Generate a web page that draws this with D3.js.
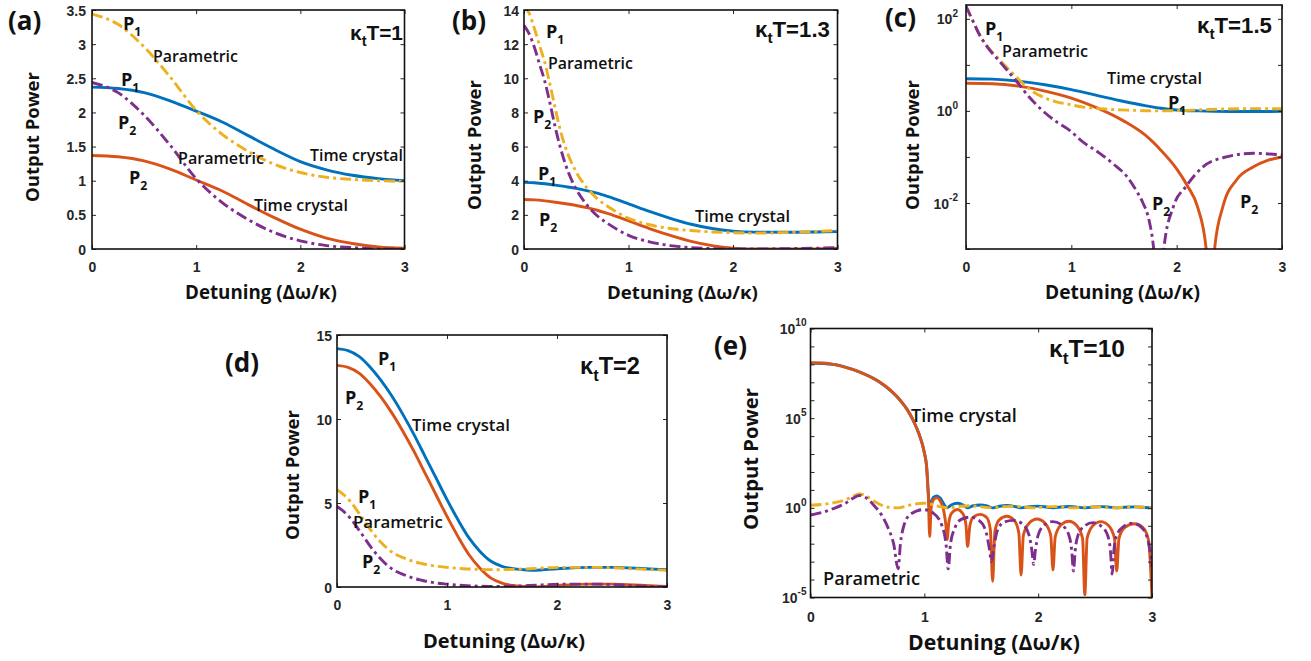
<!DOCTYPE html>
<html>
<head>
<meta charset="utf-8">
<script src="https://cdn.jsdelivr.net/npm/d3@7"></script>
<style>
  html, body { margin: 0; padding: 0; background: #fff; }
  svg { display: block; }
  .tick text { font-family: "Liberation Sans", Arial, sans-serif; font-weight: bold; fill: #262626; }
  .tick line { stroke: #262626; }
  .lbl { font-family: "Open Sans", "Noto Sans", sans-serif; font-weight: bold; fill: #111; }
  .kap { font-family: "Liberation Sans", Arial, sans-serif; font-weight: bold; fill: #111; }
</style>
</head>
<body>
<svg id="fig" width="1311" height="661"></svg>
<script>
// ---- data: [detuning, output power] ----
const xTicks = [0, 1, 2, 3];

// (a) kT = 1
const aYTicks = [0, 0.5, 1, 1.5, 2, 2.5, 3, 3.5];
const aBlue = [[0, 2.37], [0.25, 2.35], [0.5, 2.29], [0.75, 2.17], [1, 2.02], [1.25, 1.86], [1.5, 1.66], [1.75, 1.46], [2, 1.28], [2.25, 1.16], [2.5, 1.08], [2.75, 1.03], [3, 1.0]];
const aOrange = [[0, 1.37], [0.25, 1.35], [0.5, 1.29], [0.75, 1.17], [1, 1.01], [1.25, 0.85], [1.5, 0.65], [1.75, 0.46], [2, 0.29], [2.25, 0.16], [2.5, 0.08], [2.75, 0.03], [3, 0.01]];
const aYellow = [[0, 3.44], [0.25, 3.29], [0.5, 2.96], [0.75, 2.52], [1, 2.03], [1.25, 1.68], [1.5, 1.43], [1.75, 1.24], [2, 1.12], [2.25, 1.05], [2.5, 1.02], [2.75, 1.0], [3, 0.99]];
const aPurple = [[0, 2.44], [0.25, 2.29], [0.5, 1.96], [0.75, 1.52], [1, 1.03], [1.25, 0.68], [1.5, 0.43], [1.75, 0.24], [2, 0.12], [2.25, 0.05], [2.5, 0.02], [2.75, 0.0], [3, 0.0]];

// (b) kT = 1.3
const bYTicks = [0, 2, 4, 6, 8, 10, 12, 14];
const bBlue = [[0, 3.9], [0.1, 3.88], [0.2, 3.82], [0.3, 3.74], [0.4, 3.65], [0.5, 3.55], [0.6, 3.42], [0.7, 3.27], [0.8, 3.08], [1, 2.65], [1.2, 2.2], [1.4, 1.8], [1.6, 1.45], [1.8, 1.2], [2, 1.05], [2.2, 0.99], [2.5, 0.98], [2.8, 1.0], [3, 1.02]];
const bOrange = [[0, 2.9], [0.1, 2.88], [0.2, 2.82], [0.3, 2.74], [0.4, 2.65], [0.5, 2.55], [0.6, 2.42], [0.7, 2.27], [0.8, 2.08], [1, 1.65], [1.2, 1.2], [1.4, 0.8], [1.6, 0.45], [1.8, 0.2], [2, 0.05], [2.2, 0.0], [2.5, 0.0], [2.8, 0.01], [3, 0.03]];
const bYellow = [[0, 14.2], [0.05, 13.8], [0.1, 12.9], [0.15, 11.9], [0.2, 10.9], [0.25, 9.6], [0.3, 8.2], [0.35, 6.9], [0.4, 5.9], [0.5, 4.5], [0.6, 3.6], [0.7, 2.95], [0.8, 2.5], [1, 1.8], [1.2, 1.42], [1.4, 1.2], [1.6, 1.08], [1.8, 1.0], [2, 0.95], [2.2, 0.93], [2.5, 0.96], [2.8, 1.03], [3, 1.08]];
const bPurple = [[0, 13.1], [0.05, 12.6], [0.1, 11.8], [0.15, 10.8], [0.2, 9.8], [0.25, 8.5], [0.3, 7.1], [0.35, 5.9], [0.4, 4.9], [0.5, 3.5], [0.6, 2.6], [0.7, 1.95], [0.8, 1.5], [1, 0.8], [1.2, 0.42], [1.4, 0.2], [1.6, 0.08], [1.8, 0.02], [2, 0.0], [2.2, 0.0], [2.5, 0.02], [2.8, 0.05], [3, 0.08]];

// (c) kT = 1.5, log axis
const cYTicks = [1e-3, 1e-2, 1e-1, 1, 10, 100];
const cYLabels = [1e-2, 1, 100];
const cBlue = [[0, 5.0], [0.25, 4.9], [0.5, 4.45], [0.75, 3.7], [1, 2.9], [1.25, 2.15], [1.5, 1.6], [1.7, 1.3], [1.85, 1.14], [2, 1.05], [2.2, 1.0], [2.5, 0.97], [2.8, 0.97], [3, 0.98]];
const cOrange = [[0, 4.0], [0.25, 3.9], [0.5, 3.45], [0.75, 2.7], [1, 1.9], [1.25, 1.15], [1.5, 0.6], [1.7, 0.3], [1.85, 0.14], [2, 0.055], [2.1, 0.024], [2.2, 0.008], [2.28, 0.001], [2.32, 0.00005], [2.36, 0.001], [2.44, 0.0085], [2.57, 0.032], [2.73, 0.061], [2.87, 0.085], [3, 0.1]];
const cYellow = [[0, 189], [0.065, 91], [0.13, 45], [0.2, 26], [0.32, 12.8], [0.48, 5.4], [0.6, 3.0], [0.73, 2.0], [0.85, 1.6], [0.99, 1.37], [1.1, 1.22], [1.27, 1.12], [1.4, 1.07], [1.53, 1.04], [1.7, 1.01], [1.83, 1.0], [2, 1.01], [2.25, 1.06], [2.47, 1.1], [2.73, 1.12], [3, 1.11]];
const cPurple = [[0, 188], [0.065, 90], [0.13, 44], [0.2, 25], [0.32, 11.8], [0.48, 4.4], [0.6, 2.0], [0.73, 1.0], [0.85, 0.6], [0.99, 0.37], [1.1, 0.22], [1.27, 0.12], [1.4, 0.07], [1.53, 0.037], [1.62, 0.018], [1.68, 0.01], [1.74, 0.004], [1.78, 0.0011], [1.83, 0.00003], [1.88, 0.0011], [1.97, 0.0085], [2.09, 0.023], [2.25, 0.061], [2.47, 0.1], [2.73, 0.12], [3, 0.11]];

// (d) kT = 2
const dYTicks = [0, 5, 10, 15];
const dBlue = [[0, 14.19], [0.1, 14.07], [0.2, 13.73], [0.3, 13.1], [0.4, 12.3], [0.5, 11.35], [0.6, 10.26], [0.7, 9.07], [0.8, 7.78], [0.9, 6.49], [1, 5.2], [1.1, 4.0], [1.2, 2.92], [1.3, 2.12], [1.4, 1.53], [1.5, 1.23], [1.6, 1.09], [1.7, 1.03], [1.8, 1.0], [2, 1.09], [2.3, 1.17], [2.5, 1.17], [2.8, 1.09], [3, 1.03]];
const dOrange = [[0, 13.19], [0.1, 13.07], [0.2, 12.73], [0.3, 12.1], [0.4, 11.3], [0.5, 10.35], [0.6, 9.26], [0.7, 8.07], [0.8, 6.78], [0.9, 5.49], [1, 4.2], [1.1, 3.0], [1.2, 1.92], [1.3, 1.12], [1.4, 0.53], [1.5, 0.23], [1.6, 0.09], [1.7, 0.03], [1.8, 0.0], [2, 0.09], [2.3, 0.17], [2.5, 0.17], [2.8, 0.09], [3, 0.03]];
const dYellow = [[0, 5.79], [0.06, 5.5], [0.12, 5.1], [0.21, 4.3], [0.3, 3.45], [0.39, 2.72], [0.46, 2.28], [0.54, 1.92], [0.62, 1.7], [0.69, 1.53], [0.77, 1.4], [0.85, 1.29], [1, 1.17], [1.15, 1.09], [1.3, 1.05], [1.45, 1.03], [1.6, 1.05], [1.75, 1.09], [2.06, 1.17], [2.36, 1.17], [2.7, 1.08], [3, 0.99]];
const dPurple = [[0, 4.79], [0.06, 4.5], [0.12, 4.1], [0.21, 3.3], [0.3, 2.45], [0.39, 1.72], [0.46, 1.28], [0.54, 0.92], [0.62, 0.7], [0.69, 0.53], [0.77, 0.4], [0.85, 0.29], [1, 0.17], [1.15, 0.09], [1.3, 0.05], [1.45, 0.03], [1.6, 0.05], [1.75, 0.09], [2.06, 0.17], [2.36, 0.17], [2.7, 0.08], [3, 0.0]];

// (e) kT = 10, log axis
const eYTicks = [1e-5, 1e-4, 1e-3, 1e-2, 1e-1, 1, 10, 100, 1e3, 1e4, 1e5, 1e6, 1e7, 1e8, 1e9, 1e10];
const eYLabels = [1e-5, 1, 1e5, 1e10];
const eBlue = [[0, 1.2e8], [0.2, 1.0e8], [0.4, 4.5e7], [0.6, 1.1e7], [0.8, 8e5], [0.85, 3e5], [0.9, 8e4], [0.95, 1.5e4], [1.0, 1.2e3], [1.02, 200], [1.035, 6], [1.047, 1.03], [1.06, 2.0], [1.08, 3.8], [1.11, 4.6], [1.14, 3.4], [1.17, 1.7], [1.19, 1.1], [1.2, 1.02], [1.215, 1.15], [1.24, 1.5], [1.29, 1.8], [1.34, 1.45], [1.365, 1.12], [1.38, 1.01], [1.4, 1.1], [1.43, 1.3], [1.49, 1.43], [1.55, 1.28], [1.58, 1.06], [1.6, 1.0], [1.62, 1.05], [1.66, 1.22], [1.725, 1.34], [1.79, 1.2], [1.83, 1.04], [1.85, 1.0], [1.87, 1.03], [1.92, 1.14], [1.99, 1.24], [2.06, 1.14], [2.11, 1.03], [2.13, 1.0], [2.15, 1.03], [2.2, 1.11], [2.27, 1.18], [2.34, 1.1], [2.39, 1.02], [2.41, 1.0], [2.43, 1.02], [2.48, 1.1], [2.55, 1.17], [2.62, 1.1], [2.67, 1.02], [2.69, 1.0], [2.71, 1.02], [2.76, 1.08], [2.845, 1.13], [2.92, 1.08], [2.97, 1.02], [3, 1.0]];
const eOrange = [[0, 1.2e8], [0.1, 1.2e8], [0.2, 1.0e8], [0.3, 7e7], [0.4, 4.5e7], [0.5, 2.4e7], [0.6, 1.1e7], [0.7, 3.8e6], [0.8, 8e5], [0.85, 3e5], [0.9, 8e4], [0.95, 1.5e4], [0.98, 4e3], [1.0, 1.2e3], [1.02, 200], [1.035, 5], [1.047, 0.025], [1.06, 1.0], [1.08, 2.8], [1.11, 3.6], [1.14, 2.4], [1.17, 0.7], [1.19, 0.1], [1.2, 0.017], [1.215, 0.15], [1.24, 0.5], [1.29, 0.8], [1.34, 0.45], [1.365, 0.12], [1.38, 0.007], [1.4, 0.1], [1.43, 0.3], [1.49, 0.43], [1.55, 0.28], [1.58, 0.06], [1.6, 0.00008], [1.62, 0.05], [1.66, 0.22], [1.725, 0.34], [1.79, 0.2], [1.83, 0.04], [1.85, 0.00018], [1.87, 0.03], [1.92, 0.14], [1.99, 0.24], [2.06, 0.14], [2.11, 0.03], [2.13, 0.00035], [2.15, 0.025], [2.2, 0.11], [2.27, 0.18], [2.34, 0.1], [2.39, 0.02], [2.41, 0.000014], [2.43, 0.02], [2.48, 0.1], [2.55, 0.17], [2.62, 0.1], [2.67, 0.02], [2.69, 0.0003], [2.71, 0.02], [2.76, 0.08], [2.845, 0.13], [2.92, 0.08], [2.97, 0.015], [3, 0.00001]];
const eYellow = [[0, 1.4], [0.1, 1.55], [0.2, 1.9], [0.3, 2.7], [0.38, 4.6], [0.43, 5.9], [0.48, 4.9], [0.56, 2.3], [0.63, 1.35], [0.68, 1.08], [0.77, 1.0], [0.88, 1.45], [0.99, 1.8], [1.08, 1.5], [1.15, 1.12], [1.21, 1.0], [1.32, 1.22], [1.4, 1.3], [1.48, 1.2], [1.59, 1.0], [1.7, 1.16], [1.78, 1.2], [1.86, 1.13], [1.96, 1.0], [2.06, 1.12], [2.13, 1.17], [2.2, 1.12], [2.31, 1.0], [2.41, 1.1], [2.48, 1.15], [2.55, 1.1], [2.65, 1.0], [2.75, 1.09], [2.83, 1.14], [2.9, 1.09], [3, 1.0]];
const ePurple = [[0, 0.4], [0.1, 0.55], [0.2, 0.9], [0.3, 1.7], [0.38, 3.6], [0.43, 4.9], [0.48, 3.9], [0.56, 1.3], [0.63, 0.35], [0.68, 0.08], [0.73, 0.01], [0.77, 0.0004], [0.79, 0.01], [0.82, 0.1], [0.88, 0.45], [0.99, 0.8], [1.08, 0.5], [1.15, 0.12], [1.19, 0.01], [1.21, 0.0004], [1.23, 0.01], [1.27, 0.08], [1.32, 0.22], [1.4, 0.3], [1.48, 0.2], [1.54, 0.05], [1.57, 0.006], [1.59, 0.001], [1.61, 0.006], [1.64, 0.05], [1.7, 0.16], [1.78, 0.2], [1.86, 0.13], [1.92, 0.03], [1.945, 0.004], [1.96, 0.0007], [1.975, 0.004], [2.0, 0.03], [2.06, 0.12], [2.13, 0.17], [2.2, 0.12], [2.27, 0.03], [2.295, 0.004], [2.31, 0.0003], [2.325, 0.004], [2.35, 0.03], [2.41, 0.1], [2.48, 0.15], [2.55, 0.1], [2.61, 0.03], [2.635, 0.004], [2.65, 0.0002], [2.665, 0.004], [2.69, 0.03], [2.75, 0.09], [2.83, 0.14], [2.9, 0.09], [2.96, 0.02], [2.985, 0.003], [3, 0.0005]];

// ---- styling & layout ----
const colors = {blue: '#0072BD', orange: '#D95319', yellow: '#EDB120', purple: '#7E2F8E'};
const dashDot = '11,4,3,4';

const panels = [
  {id: 'a', kappa: '1', box: [92, 10, 404.5, 249], log: false, yDomain: [0, 3.5], yTicks: aYTicks,
    lines: [aBlue, aOrange, aYellow, aPurple], yPad: 6, xLab: 272,
    xTitle: [185, 299, 152], yTitle: [39, 137, 130], tag: [8, 30], kap: [350, 40, 53],
    notes: [
      {p: '1', x: 123, y: 30}, {t: 'Parametric', x: 153, y: 62, w: 85},
      {p: '1', x: 121, y: 86}, {p: '2', x: 118, y: 129},
      {t: 'Parametric', x: 178, y: 164, w: 86}, {t: 'Time crystal', x: 310, y: 161, w: 93},
      {p: '2', x: 129, y: 184}, {t: 'Time crystal', x: 254, y: 211, w: 94}]},
  {id: 'b', kappa: '1.3', box: [524, 10, 837.5, 249], log: false, yDomain: [0, 14], yTicks: bYTicks,
    lines: [bBlue, bOrange, bYellow, bPurple], yPad: 5, xLab: 272,
    xTitle: [607, 299, 151], yTitle: [481, 145, 130], tag: [452, 30], kap: [755, 37, 75],
    notes: [
      {p: '1', x: 546, y: 38}, {t: 'Parametric', x: 548, y: 69, w: 85},
      {p: '2', x: 533, y: 123}, {p: '1', x: 538, y: 180},
      {p: '2', x: 539, y: 226}, {t: 'Time crystal', x: 695, y: 222, w: 95}]},
  {id: 'c', kappa: '1.5', box: [966, 5, 1282, 249], log: true, yDomain: [1e-3, 200], yTicks: cYTicks, yLabels: cYLabels,
    lines: [cBlue, cOrange, cYellow, cPurple], yPad: 8, xLab: 272,
    xTitle: [1045, 299, 155], yTitle: [919, 145, 130], tag: [885, 27], kap: [1197, 33, 75],
    notes: [
      {p: '1', x: 985, y: 35}, {t: 'Parametric', x: 1002, y: 57, w: 86},
      {t: 'Time crystal', x: 1107, y: 84, w: 95}, {p: '1', x: 1168, y: 109},
      {p: '2', x: 1152, y: 210}, {p: '2', x: 1240, y: 208}]},
  {id: 'd', kappa: '2', box: [337, 335, 667, 587], log: false, yDomain: [0, 15], yTicks: dYTicks,
    lines: [dBlue, dOrange, dYellow, dPurple], yPad: 5, xLab: 610,
    xTitle: [423, 648, 162], yTitle: [299, 475, 130], tag: [225, 372], kap: [580, 374, 60],
    notes: [
      {p: '1', x: 378, y: 365}, {p: '2', x: 345, y: 404},
      {t: 'Time crystal', x: 412, y: 431, w: 98}, {p: '1', x: 358, y: 503},
      {t: 'Parametric', x: 353, y: 528, w: 90}, {p: '2', x: 362, y: 568}]},
  {id: 'e', kappa: '10', box: [810.5, 328.5, 1152, 597.5], log: true, yDomain: [1e-5, 1e10], yTicks: eYTicks, yLabels: eYLabels,
    lines: [eBlue, eOrange, eYellow, ePurple], yPad: 4, xLab: 622,
    xTitle: [908, 650, 172], yTitle: [758, 459, 142], tag: [714, 355], kap: [1049, 357, 76],
    notes: [
      {t: 'Time crystal', x: 911, y: 422, w: 106}, {t: 'Parametric', x: 823, y: 585, w: 97}]}
];

const seriesStyle = [
  {color: colors.blue, dash: null},
  {color: colors.orange, dash: null},
  {color: colors.yellow, dash: dashDot},
  {color: colors.purple, dash: dashDot}
];

const svg = d3.select('#fig');
const defs = svg.append('defs');

const fitWidth = (t, w) => {
  const len = t.node().getComputedTextLength();
  if (len > 0) t.attr('font-size', +t.attr('font-size') * w / len);
};

const addNote = (g, n) => {
  const t = g.append('text').attr('class', 'lbl').attr('x', n.x).attr('y', n.y);
  if (n.p) {
    t.attr('font-size', 18);
    t.append('tspan').text('P');
    t.append('tspan').attr('font-size', '0.68em').attr('dy', '0.45em').text(n.p);
  } else {
    t.attr('font-size', 16).style('font-weight', 600).text(n.t);
    fitWidth(t, n.w);
  }
};

const drawPanel = (p) => {
  const [x0, y0, x1, y1] = p.box;
  const x = d3.scaleLinear().domain([0, 3]).range([x0, x1]);
  const y = (p.log ? d3.scaleLog() : d3.scaleLinear()).domain(p.yDomain).range([y1, y0]);
  const g = svg.append('g').attr('class', 'panel-' + p.id);

  defs.append('clipPath').attr('id', 'clip-' + p.id)
    .append('rect').attr('x', x0).attr('y', y0).attr('width', x1 - x0).attr('height', y1 - y0);

  const line = d3.line()
    .x(d => x(d[0]))
    .y(d => y(d[1]))
    .curve(d3.curveMonotoneX);

  const plot = g.append('g').attr('clip-path', `url(#clip-${p.id})`);
  p.lines.forEach((data, i) => {
    plot.append('path')
      .datum(data)
      .attr('fill', 'none')
      .attr('stroke', seriesStyle[i].color)
      .attr('stroke-width', 2.9)
      .attr('stroke-dasharray', seriesStyle[i].dash)
      .attr('d', line);
  });

  // axes, ticks pointing inward on all four sides
  const fmt = d => String(d);
  const left = g.append('g').attr('transform', `translate(${x0},0)`)
    .call(d3.axisLeft(y).tickValues(p.yTicks).tickSizeInner(-4).tickSizeOuter(0)
      .tickPadding(p.yPad).tickFormat(p.log ? () => '' : fmt));
  g.append('g').attr('transform', `translate(${x1},0)`)
    .call(d3.axisRight(y).tickValues(p.yTicks).tickSizeInner(-4).tickSizeOuter(0).tickFormat(''));
  const bottom = g.append('g').attr('transform', `translate(0,${y1})`)
    .call(d3.axisBottom(x).tickValues(xTicks).tickSizeInner(-4).tickSizeOuter(0).tickFormat(fmt));
  g.append('g').attr('transform', `translate(0,${y0})`)
    .call(d3.axisTop(x).tickValues(xTicks).tickSizeInner(-4).tickSizeOuter(0).tickFormat(''));
  g.selectAll('.domain').remove();
  g.selectAll('.tick text').attr('font-size', 14);

  bottom.selectAll('.tick text').attr('dy', null).attr('y', p.xLab - y1);
  left.selectAll('.tick text').attr('dy', '0.36em');

  if (p.log) {
    left.selectAll('.tick text').each(function (d) {
      if (!p.yLabels.includes(d)) return;
      const t = d3.select(this);
      t.append('tspan').text('10');
      t.append('tspan').attr('font-size', '0.72em').attr('dy', '-0.75em').text(Math.round(Math.log10(d)));
    });
  }

  g.append('rect')
    .attr('x', x0).attr('y', y0).attr('width', x1 - x0).attr('height', y1 - y0)
    .attr('fill', 'none').attr('stroke', '#111').attr('stroke-width', 1.6);

  // axis titles
  const xt = g.append('text').attr('class', 'lbl').attr('x', p.xTitle[0]).attr('y', p.xTitle[1])
    .attr('font-size', 20).text('Detuning (Δω/κ)');
  fitWidth(xt, p.xTitle[2]);
  const yt = g.append('text').attr('class', 'lbl').attr('text-anchor', 'middle')
    .attr('transform', `translate(${p.yTitle[0]},${p.yTitle[1]}) rotate(-90)`)
    .attr('font-size', 19).text('Output Power');
  fitWidth(yt, p.yTitle[2]);

  // panel tag and kT label
  g.append('text').attr('class', 'lbl').attr('x', p.tag[0]).attr('y', p.tag[1])
    .attr('font-size', 26).text(`(${p.id})`);
  const k = g.append('text').attr('class', 'kap').attr('x', p.kap[0]).attr('y', p.kap[1]).attr('font-size', 19);
  k.append('tspan').text('κ');
  k.append('tspan').attr('font-size', '0.7em').attr('dy', '0.4em').text('t');
  k.append('tspan').attr('dy', '-0.28em').text('T=' + p.kappa);
  fitWidth(k, p.kap[2]);

  p.notes.forEach(n => addNote(g, n));
};

panels.forEach(drawPanel);
</script>
</body>
</html>
